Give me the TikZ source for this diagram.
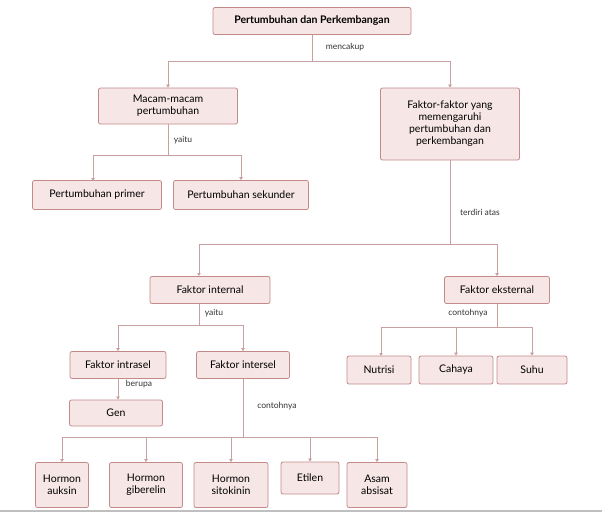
\documentclass[tikz,border=0pt]{standalone}
\usepackage{fontspec}
\setmainfont{Lato}
\usetikzlibrary{arrows.meta}
\definecolor{bfill}{HTML}{F6E6E6}
\definecolor{bline}{HTML}{C48A8A}
\definecolor{cline}{HTML}{C9A0A0}
\tikzset{
 bx/.style={draw=bline,fill=bfill,rounded corners=2pt,line width=0.8pt,align=center,font=\fontsize{10.5}{12}\selectfont,inner sep=1pt},
 lab/.style={font=\fontsize{8.5}{10}\selectfont,text=black!80},
 con/.style={draw=cline,line width=0.7pt},
 arr/.style={con,-{Triangle[length=3pt,width=3.5pt]}}
}
\begin{document}
\begin{tikzpicture}[x=1pt,y=-1pt]
\useasboundingbox (0,0) rectangle (602,514);
\draw[black!25,line width=1.5pt] (0,511) -- (602,511);
\node[bx,minimum width=198,minimum height=27,font=\bfseries\fontsize{10.5}{12}\selectfont] (top) at (312,21) {Pertumbuhan dan Perkembangan};
\node[bx,minimum width=139,minimum height=36] (mac) at (168,106) {Macam-macam\\pertumbuhan};
\node[bx,minimum width=139,minimum height=72] (fak) at (450,124) {Faktor-faktor yang\\memengaruhi\\pertumbuhan dan\\perkembangan};
\node[bx,minimum width=129,minimum height=29] (pp) at (97,195) {Pertumbuhan primer};
\node[bx,minimum width=135,minimum height=29] (ps) at (241,195) {Pertumbuhan sekunder};
\node[bx,minimum width=120,minimum height=27] (fi) at (210,290) {Faktor internal};
\node[bx,minimum width=105,minimum height=27] (fe) at (497,290) {Faktor eksternal};
\node[bx,minimum width=96,minimum height=27] (fia) at (118,365) {Faktor intrasel};
\node[bx,minimum width=93,minimum height=27] (fie) at (243,365) {Faktor intersel};
\node[bx,minimum width=93,minimum height=26] (gen) at (116,413) {Gen};
\node[bx,minimum width=64,minimum height=28] (nu) at (379,370) {Nutrisi};
\node[bx,minimum width=74,minimum height=28] (ca) at (456,370) {Cahaya};
\node[bx,minimum width=70,minimum height=28] (su) at (532,370) {Suhu};
\node[bx,minimum width=53,minimum height=45] (h1) at (62,485) {Hormon\\auksin};
\node[bx,minimum width=73,minimum height=45] (h2) at (146,485) {Hormon\\giberelin};
\node[bx,minimum width=74,minimum height=45] (h3) at (231,485) {Hormon\\sitokinin};
\node[bx,minimum width=58,minimum height=32] (h4) at (310,478) {Etilen};
\node[bx,minimum width=60,minimum height=45] (h5) at (377,485) {Asam\\absisat};
% connectors
\draw[con] (top.south) -- (312,61) coordinate (j1);
\draw[arr] (j1) -| (mac.north);
\draw[arr] (j1) -| (fak.north);
\node[lab] at (345,47) {mencakup};
\draw[con] (mac.south) -- (168,155) coordinate (j2);
\draw[arr] (j2) -| (93,181);
\draw[arr] (j2) -| (ps.north);
\node[lab] at (183,140) {yaitu};
\draw[con] (fak.south) -- (450,244) coordinate (j3);
\draw[arr] (j3) -| (199,276);
\draw[arr] (j3) -| (fe.north);
\node[lab] at (480,212) {terdiri atas};
\draw[con] (199,303.5) -- (199,325) coordinate (j4);
\draw[arr] (j4) -| (fia.north);
\draw[arr] (j4) -| (fie.north);
\node[lab] at (214,313) {yaitu};
\draw[arr] (fia.south) -- (gen.north -| fia.south);
\node[lab] at (139,384) {berupa};
\draw[con] (fie.south) -- (243,437) coordinate (j5);
\draw[arr] (j5) -| (h1.north);
\draw[arr] (j5) -| (h2.north);
\draw[arr] (j5) -| (h3.north);
\draw[arr] (j5) -| (h4.north);
\draw[arr] (j5) -| (h5.north);
\node[lab] at (277,406) {contohnya};
\draw[con] (fe.south) -- (497,327) coordinate (j6);
\draw[arr] (j6) -| (381,356);
\draw[arr] (j6) -| (ca.north);
\draw[arr] (j6) -| (su.north);
\node[lab] at (468,313) {contohnya};
\end{tikzpicture}
\end{document}
